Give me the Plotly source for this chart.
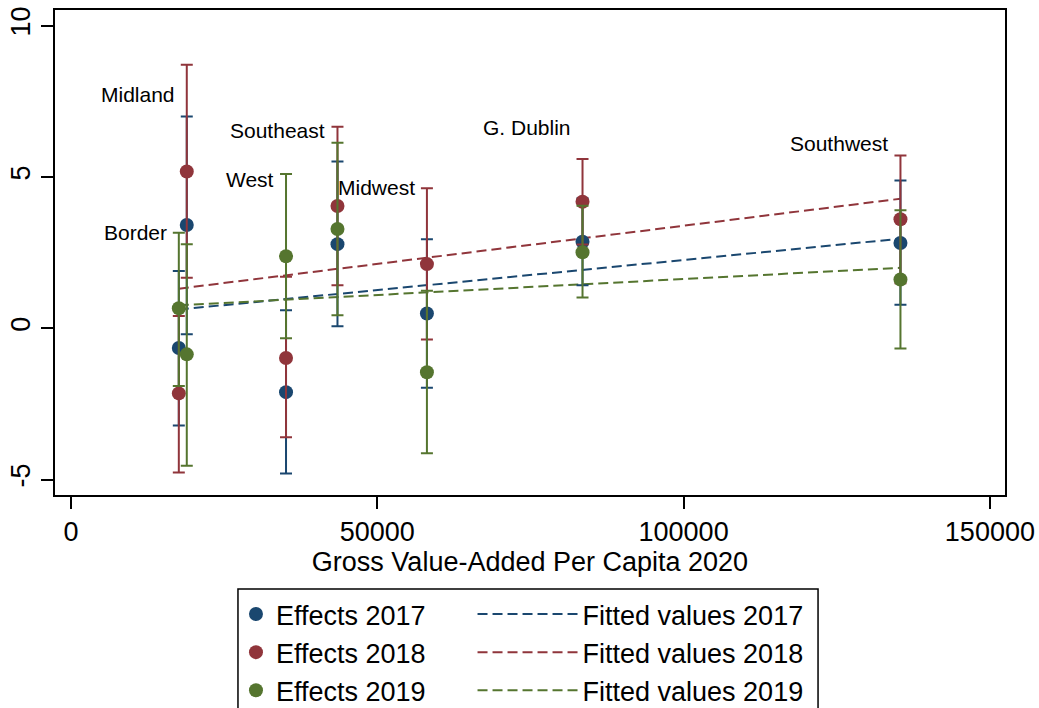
import plotly.graph_objects as go

# ---- data ----
regions = ["Border", "Midland", "West", "Southeast", "Midwest", "G. Dublin", "Southwest"]
gva = [17600, 18900, 35100, 43500, 58100, 83500, 135400]

eff2017 = [-0.65, 3.41, -2.11, 2.78, 0.49, 2.86, 2.82]
lo2017 = [-3.21, -0.20, -4.80, 0.07, -1.96, 1.42, 0.78]
hi2017 = [1.89, 7.00, 0.60, 5.51, 2.94, 4.30, 4.88]

eff2018 = [-2.15, 5.18, -0.98, 4.04, 2.12, 4.18, 3.60]
lo2018 = [-4.76, 1.67, -3.60, 1.42, -0.37, 2.77, 1.49]
hi2018 = [0.41, 8.71, 1.70, 6.66, 4.63, 5.59, 5.71]

eff2019 = [0.66, -0.86, 2.38, 3.28, -1.45, 2.51, 1.61]
lo2019 = [-1.91, -4.54, -0.33, 0.43, -4.13, 1.02, -0.67]
hi2019 = [3.16, 2.78, 5.10, 6.13, 1.24, 4.05, 3.90]

label_y = [3.15, 7.71, 4.90, 6.55, 4.64, 6.65, 6.12]

fit2017 = [0.62, 2.96]
fit2018 = [1.31, 4.28]
fit2019 = [0.76, 2.00]

years = ["2017", "2018", "2019"]
effects = {"2017": eff2017, "2018": eff2018, "2019": eff2019}
lows = {"2017": lo2017, "2018": lo2018, "2019": lo2019}
highs = {"2017": hi2017, "2018": hi2018, "2019": hi2019}
fits = {"2017": fit2017, "2018": fit2018, "2019": fit2019}
colors = {"2017": "#1a476f", "2018": "#90353b", "2019": "#55752f"}

FONT = "Arial, 'Liberation Sans', sans-serif"

fig = go.Figure()
fit_x = [min(gva), max(gva)]

for yr in years:
    fig.add_trace(go.Scatter(
        x=fit_x, y=fits[yr], mode="lines",
        line=dict(color=colors[yr], width=2, dash="10px,5px"),
        name="Fitted values " + yr, legend="legend2", legendgroup="f" + yr,
    ))

for yr in years:
    e = effects[yr]
    up = [h - v for h, v in zip(highs[yr], e)]
    dn = [v - l for v, l in zip(e, lows[yr])]
    fig.add_trace(go.Scatter(
        x=gva, y=e, mode="markers",
        marker=dict(color=colors[yr], size=14),
        error_y=dict(type="data", array=up, arrayminus=dn, color=colors[yr],
                     thickness=2, width=6),
        name="Effects " + yr, legend="legend", legendgroup="e" + yr,
    ))

for r, xv, yv in zip(regions, gva, label_y):
    fig.add_annotation(x=xv, y=yv, text=r, showarrow=False, xanchor="right",
                       yanchor="middle", xshift=-10,
                       font=dict(size=21, color="black", family=FONT))

# legend frame
fig.add_shape(type="rect", xref="paper", yref="paper", x0=0.1926, x1=0.8032,
              y0=-0.60, y1=-0.1938, line=dict(color="black", width=1.5),
              fillcolor="rgba(0,0,0,0)")

fig.update_layout(
    width=1039, height=708,
    margin=dict(l=55, r=34, t=10, b=213, autoexpand=False),
    paper_bgcolor="white", plot_bgcolor="white",
    font=dict(family=FONT, color="black", size=27),
    xaxis=dict(range=[-2612, 152465], tickvals=[0, 50000, 100000, 150000],
               ticktext=["0", "50000", "100000", "150000"],
               ticks="outside", ticklen=12, tickwidth=1.5, tickcolor="black",
               showline=True, linewidth=2, linecolor="black", mirror=True,
               showgrid=False, zeroline=False, automargin=False,
               ticklabeloverflow="allow", tickfont=dict(size=27),
               title=dict(text="Gross Value-Added Per Capita 2020",
                          font=dict(size=27), standoff=0)),
    yaxis=dict(range=[-5.507, 10.515], tickvals=[-5, 0, 5, 10],
               ticktext=["-5", "0", "5", "10"], tickangle=-90,
               ticks="outside", ticklen=12, tickwidth=1.5, tickcolor="black",
               showline=True, linewidth=2, linecolor="black", mirror=True,
               showgrid=False, zeroline=False, automargin=False,
               ticklabeloverflow="allow", tickfont=dict(size=27)),
    legend=dict(x=0.1905, y=-0.1959, xanchor="left", yanchor="top",
                bgcolor="rgba(0,0,0,0)", borderwidth=0, tracegroupgap=0,
                traceorder="grouped", font=dict(size=27)),
    legend2=dict(x=0.4395, y=-0.1959, xanchor="left", yanchor="top",
                 bgcolor="rgba(0,0,0,0)", borderwidth=0, tracegroupgap=0,
                 traceorder="grouped", itemwidth=100, font=dict(size=27)),
    showlegend=True,
)

# remove the default 8px page margin so the figure fills the window exactly
fig.write_html("out.html",
               config={"displayModeBar": False},
               post_script="document.body.style.margin='0px';"
                           "document.body.style.overflow='hidden';")
